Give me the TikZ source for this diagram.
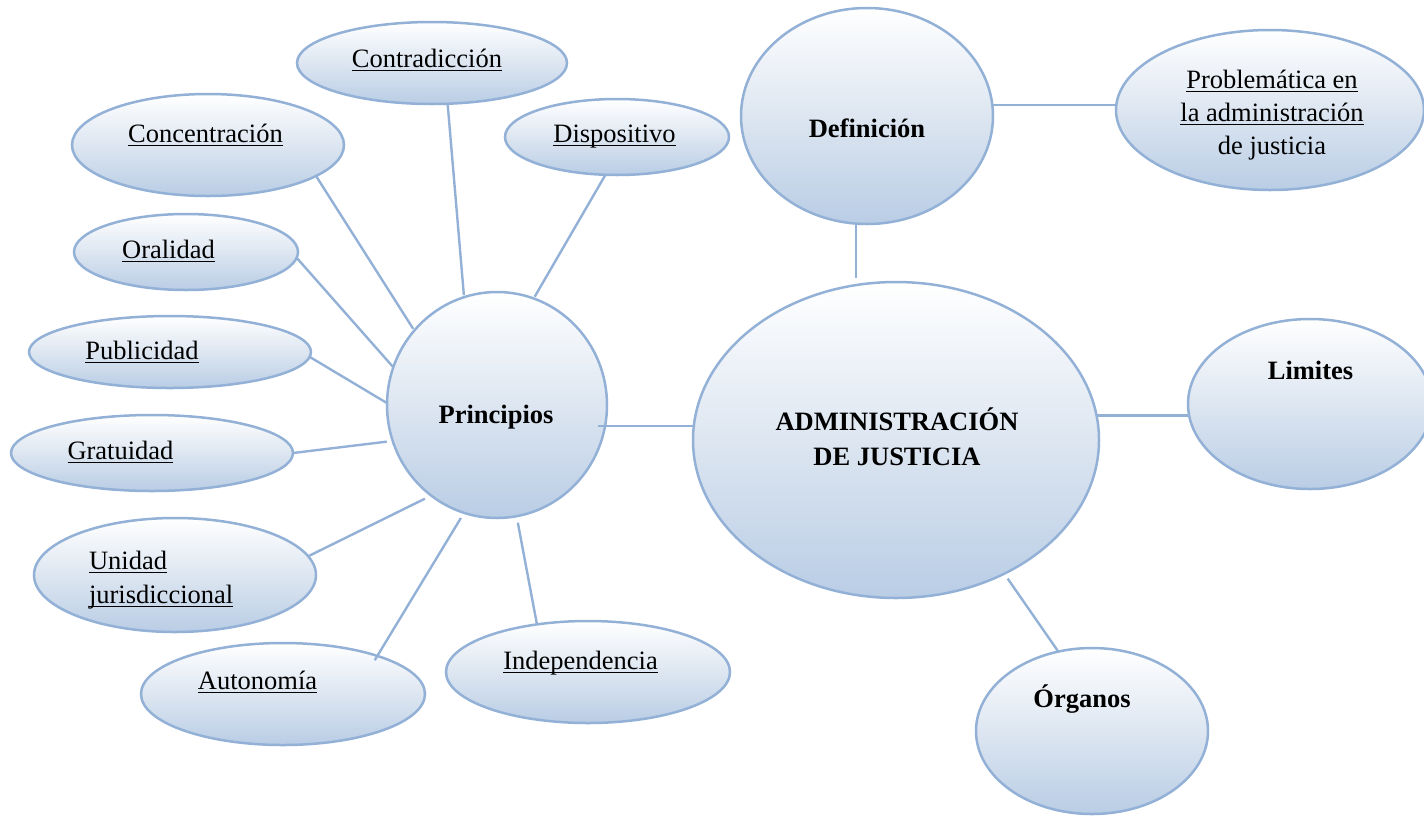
\documentclass[tikz,border=0pt]{standalone}
\usepackage{fontspec}
\setmainfont{Liberation Serif}
\usetikzlibrary{shapes.geometric}
\definecolor{bord}{HTML}{93B1D6}
\definecolor{fillb}{HTML}{B9CDE5}
\definecolor{fillm}{HTML}{DDE6F1}
\newcommand{\uln}[1]{\leavevmode\setbox0\hbox{#1}\rlap{\rule[-1.9pt]{\wd0}{0.6pt}}\box0}
\newcommand{\dfont}{\fontsize{13.25pt}{17pt}\selectfont}
\tikzset{
  bub/.style={ellipse, draw=bord, line width=1.25pt, top color=white, bottom color=fillb, middle color=fillm, inner sep=0pt, outer sep=0pt},
  link/.style={draw=bord, line width=1.2pt},
  txt/.style={font=\dfont, inner sep=0pt, outer sep=0pt, anchor=base},
  btxt/.style={txt, font=\dfont\bfseries}
}
\begin{document}
\begin{tikzpicture}[x=0.5pt,y=-0.5pt]
\useasboundingbox (0,0) rectangle (1424,815);
\clip (0,0) rectangle (1424,815);
% bubbles
\node[bub, minimum width=135pt, minimum height=41pt] (contr) at (432,63) {};
\node[bub, minimum width=136pt, minimum height=51pt] (conc) at (208,145) {};
\node[bub, minimum width=112pt, minimum height=38pt] (disp) at (617,137) {};
\node[bub, minimum width=112pt, minimum height=38pt] (orali) at (186,252) {};
\node[bub, minimum width=141pt, minimum height=36pt] (publ) at (170,352) {};
\node[bub, minimum width=141pt, minimum height=38pt] (grat) at (152,453) {};
\node[bub, minimum width=141pt, minimum height=57pt] (unid) at (175,575) {};
\node[bub, minimum width=142pt, minimum height=51pt] (auton) at (283,694) {};
\node[bub, minimum width=142pt, minimum height=51pt] (indep) at (588,672) {};
\node[bub, minimum width=110pt, minimum height=113pt] (princ) at (497,405) {};
\node[bub, minimum width=203pt, minimum height=158pt] (admin) at (896,440) {};
\node[bub, minimum width=126pt, minimum height=108pt] (defin) at (867,116) {};
\node[bub, minimum width=154pt, minimum height=80pt] (probl) at (1270,110) {};
\node[bub, minimum width=122pt, minimum height=85pt] (limit) at (1310,404) {};
\node[bub, minimum width=116pt, minimum height=83pt] (organ) at (1092,731) {};
% connectors
\draw[link, shorten >=1pt] (contr.-69.9) -- (princ.107.2);
\draw[link, shorten >=1pt] (conc.-16.6) -- (princ.138.6);
\draw[link, shorten >=1pt] (disp.-107.5) -- (princ.71.7);
\draw[link] (orali.-3.2) -- (princ.160.6);
\draw[link] (publ.-2.8) -- (princ.179);
\draw[link, shorten >=3pt] (grat.-0.4) -- (princ.199.5);
\draw[link, shorten >=3.5pt] (unid.8.7) -- (princ.234.6);
\draw[link, shorten <=-2.5pt, shorten >=3pt] (auton.22.9) -- (princ.253.4);
\draw[link, shorten >=3.3pt] (indep.137.7) -- (princ.-80.4);
\draw[link, shorten <=-3.5pt] (princ.-11.2) -- (princ.-11.2 -| admin.west);
\draw[link, shorten >=2pt] (defin.-96.3) -- (defin.-96.3 |- admin.north);
\draw[link] (defin.5.4) -- (defin.5.4 -| probl.west);
\draw[link] (admin.7) -- (admin.7 -| limit.west);
\draw[link, shorten <=3pt] (admin.-51.1) -- (organ.113.4);
% texts
\node[txt] (contr-t) at (427,67) {\uln{Contradicción}};
\node[txt] (conc-t) at (205.5,142) {\uln{Concentración}};
\node[txt] (disp-t) at (614.5,142) {\uln{Dispositivo}};
\node[txt] (orali-t) at (168.5,258) {\uln{Oralidad}};
\node[txt] (publ-t) at (142,359) {\uln{Publicidad}};
\node[txt] (grat-t) at (120.5,459) {\uln{Gratuidad}};
\node[txt, anchor=base west] (unid-t) at (89,569) {\begin{tabular}[t]{@{}l@{}}\uln{Unidad}\\\uln{jurisdiccional}\end{tabular}};
\node[txt] (auton-t) at (257.5,689) {\uln{Autonomía}};
\node[txt] (indep-t) at (580.5,669) {\uln{Independencia}};
\node[txt] (probl-t) at (1272,88) {\fontsize{13.25pt}{16.5pt}\selectfont\begin{tabular}[t]{@{}c@{}}\uln{Problemática en}\\\uln{la administración}\\de justicia\end{tabular}};
\node[btxt] (defin-t) at (867,137) {Definición};
\node[btxt] (princ-t) at (496,423) {Principios};
\node[btxt] (admin-t) at (897,430) {\fontsize{13.25pt}{17.5pt}\selectfont\begin{tabular}[t]{@{}c@{}}ADMINISTRACIÓN\\DE JUSTICIA\end{tabular}};
\node[btxt] (limit-t) at (1310.5,379) {Limites};
\node[btxt] (organ-t) at (1082,707) {Órganos};
\end{tikzpicture}
\end{document}
